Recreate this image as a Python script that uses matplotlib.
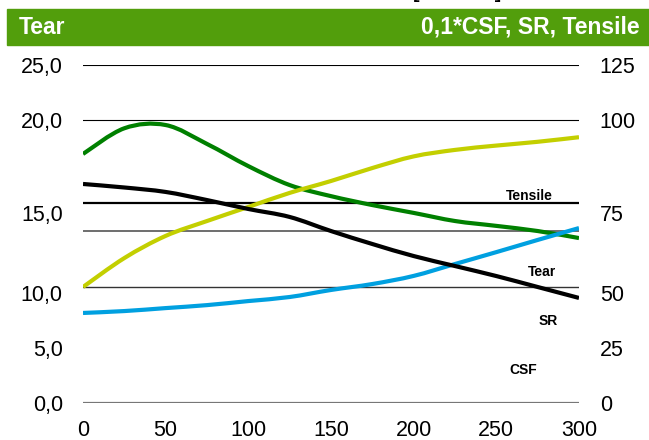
import numpy as np
import matplotlib
matplotlib.use("Agg")
import matplotlib.pyplot as plt
from matplotlib.patches import Rectangle, PathPatch
from matplotlib.path import Path

plt.rcParams["font.family"] = ["Liberation Sans", "DejaVu Sans"]

# x positions (read every 25 units)
x = [0, 25, 50, 75, 100, 125, 150, 175, 200, 225, 250, 275, 300]

# Tear, left axis
tear = [16.2, 15.94, 15.61, 15.01, 14.35, 13.76, 12.72, 11.76, 10.87, 10.13, 9.39, 8.58, 7.77]

# right axis series
tensile = [42.9, 53.6, 61.8, 67.3, 72.5, 77.7, 82.1, 86.9, 91.2, 93.6, 95.2, 96.6, 98.3]
sr = [33.3, 34.0, 35.1, 36.2, 37.7, 39.2, 41.8, 44.0, 47.0, 51.4, 55.8, 60.3, 64.7]
csf = [92.1, 101.6, 102.8, 95.8, 87.6, 80.6, 76.5, 73.2, 70.3, 67.3, 65.5, 63.6, 61.0]

# tick labels
x_ticks = [0, 50, 100, 150, 200, 250, 300]
left_labels = ["0,0", "5,0", "10,0", "15,0", "20,0", "25,0"]
right_labels = ["0", "25", "50", "75", "100", "125"]
label_pos = [0, 4.07, 8.14, 14.05, 20.9, 25]

# horizontal lines (left axis units) and their styles
hlines = [25, 20.93, 14.79, 12.72, 8.58, 0]
hcolors = ["black", "black", "black", "#555555", "#333333", "#777777"]
hwidths = [0.8, 0.8, 1.6, 1.2, 1.0, 1.6]


def smooth_line(ax, xs, ys, color):
    # smoothed line like a spreadsheet chart: bezier segments through the points
    pts = np.column_stack([xs, ys]).astype(float)
    n = len(pts)
    verts = [pts[0]]
    codes = [Path.MOVETO]
    for i in range(n - 1):
        p0 = pts[max(i - 1, 0)]
        p1 = pts[i]
        p2 = pts[i + 1]
        p3 = pts[min(i + 2, n - 1)]
        verts += [p1 + (p2 - p0) / 6, p2 - (p3 - p1) / 6, p2]
        codes += [Path.CURVE4] * 3
    patch = PathPatch(Path(verts, codes), fill=False, edgecolor=color, lw=3,
                      capstyle="butt", joinstyle="round")
    ax.add_patch(patch)


fig = plt.figure(figsize=(6.49, 4.40), dpi=100)

# header band
fig.patches.append(Rectangle((7 / 649, 395 / 440), 642 / 649, 36 / 440,
                             transform=fig.transFigure, color="#529e0c", zorder=0))
fig.text(19 / 649, 413 / 440, "Tear", color="white", fontsize=16.5, fontweight="bold",
         ha="left", va="center")
fig.text(640 / 649, 413 / 440, "0,1*CSF, SR, Tensile", color="white", fontsize=16.5,
         fontweight="bold", ha="right", va="center")
fig.text(457 / 649, 447 / 440, "[              ]", color="black", fontsize=14,
         fontweight="bold", ha="center", va="center")

ax = fig.add_axes([83 / 649, 37 / 440, 496 / 649, 338 / 440])
ax2 = ax.twinx()

ax.set_xlim(0, 300)
ax.set_ylim(0, 25)
ax2.set_ylim(0, 125)

for y, c, w in zip(hlines, hcolors, hwidths):
    ax.axhline(y, color=c, lw=w, zorder=1)

smooth_line(ax2, x, csf, "#008000")
smooth_line(ax2, x, tensile, "#c3cf00")
smooth_line(ax2, x, sr, "#00a0e0")
smooth_line(ax2, x, [v * 5 for v in tear], "black")

for a in (ax, ax2):
    for s in a.spines.values():
        s.set_visible(False)

ax.set_xticks(x_ticks)
ax.set_xticklabels([str(v) for v in x_ticks])
ax.set_yticks(label_pos)
ax.set_yticklabels(left_labels)
ax2.set_yticks([v * 5 for v in label_pos])
ax2.set_yticklabels(right_labels)
ax.tick_params(axis="x", length=0, pad=12.5, labelsize=15.5)
ax.tick_params(axis="y", length=0, pad=14.5, labelsize=15.5)
ax2.tick_params(axis="y", length=0, pad=15, labelsize=15.5)

# series labels
ax2.text((529 - 83) * 300 / 496, (403 - 196) / 2.704, "Tensile",
         fontsize=10, fontweight="bold", ha="center", va="center")
ax2.text((542 - 83) * 300 / 496, (403 - 272) / 2.704, "Tear",
         fontsize=10, fontweight="bold", ha="center", va="center")
ax2.text((548 - 83) * 300 / 496, (403 - 321) / 2.704, "SR",
         fontsize=10, fontweight="bold", ha="center", va="center")
ax2.text((523 - 83) * 300 / 496, (403 - 370) / 2.704, "CSF",
         fontsize=10, fontweight="bold", ha="center", va="center")

fig.savefig("out.png", dpi=100)
